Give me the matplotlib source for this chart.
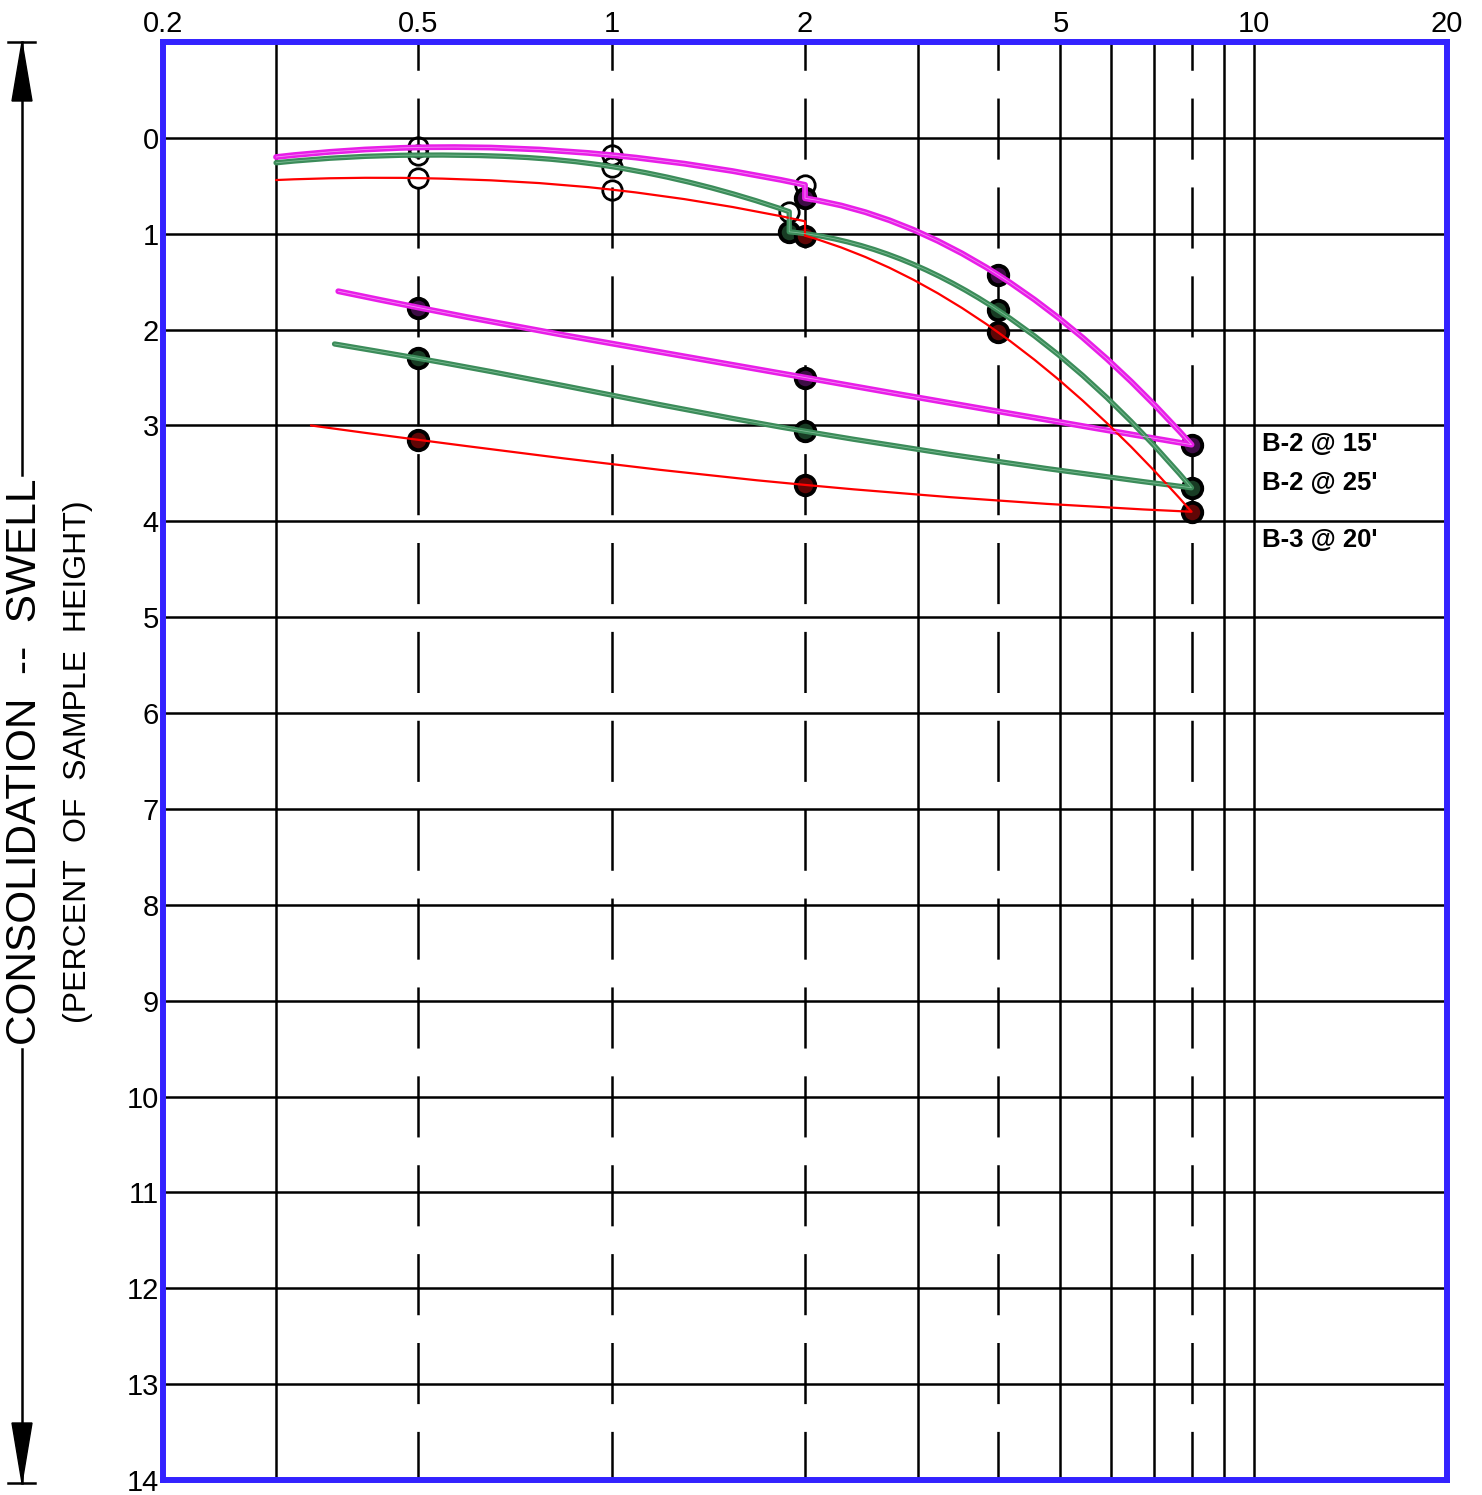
import numpy as np
import matplotlib
matplotlib.use('Agg')
import matplotlib.pyplot as plt
from matplotlib.path import Path
from matplotlib.patches import PathPatch, Polygon
from matplotlib.lines import Line2D
from matplotlib import font_manager

plt.rcParams['font.family'] = ['Liberation Sans', 'DejaVu Sans']
plt.rcParams['lines.scale_dashes'] = False

# applied pressure (ksf) vs consolidation (%)
# B-2 @ 15'
b215_dry_p = [0.3, 0.5, 1, 2]
b215_dry_s = [0.2, 0.1, 0.18, 0.49]
b215_wet_p = [2, 4, 8]
b215_wet_s = [0.63, 1.43, 3.2]
b215_reb_p = [8, 2, 0.5, 0.375]
b215_reb_s = [3.2, 2.5, 1.77, 1.6]

# B-2 @ 25'
b225_dry_p = [0.3, 0.5, 1, 1.89]
b225_dry_s = [0.26, 0.18, 0.3, 0.77]
b225_wet_p = [1.89, 4, 8]
b225_wet_s = [0.98, 1.8, 3.65]
b225_reb_p = [8, 2, 0.5, 0.37]
b225_reb_s = [3.65, 3.06, 2.3, 2.15]

# B-3 @ 20'
b320_dry_p = [0.3, 0.5, 1, 2]
b320_dry_s = [0.44, 0.42, 0.54, 0.87]
b320_wet_p = [2, 4, 8]
b320_wet_s = [1.02, 2.03, 3.9]
b320_reb_p = [8, 2, 0.5, 0.34]
b320_reb_s = [3.9, 3.62, 3.15, 3.0]

labels = ["B-2 @ 15'", "B-2 @ 25'", "B-3 @ 20'"]
label_y = [3.19, 3.6, 4.19]

x_ticks = [0.2, 0.5, 1, 2, 5, 10, 20]
x_ticklabels = ['0.2', '0.5', '1', '2', '5', '10', '20']
y_ticks = list(range(0, 15))
dashed_x = [0.5, 1, 2, 4, 8]
solid_x = [0.3, 3, 5, 6, 7, 9, 10]

series = [
    dict(dry=(b215_dry_p, b215_dry_s), wet=(b215_wet_p, b215_wet_s), reb=(b215_reb_p, b215_reb_s),
         color='#e81ee8', fill='#3e0e46', lw=4.2, core='#f48cf4', n_open=3),
    dict(dry=(b225_dry_p, b225_dry_s), wet=(b225_wet_p, b225_wet_s), reb=(b225_reb_p, b225_reb_s),
         color='#3c8c5a', fill='#183c24', lw=3.8, core='#7cbc94', n_open=3),
    dict(dry=(b320_dry_p, b320_dry_s), wet=(b320_wet_p, b320_wet_s), reb=(b320_reb_p, b320_reb_s),
         color='#ff0000', fill='#600606', lw=1.6, core=None, n_open=2),
]


def smooth(xs, ys):
    # cubic hermite through the points, done in log-pressure space
    u = np.log10(np.asarray(xs, float))
    y = np.asarray(ys, float)
    h = np.diff(u)
    s = np.diff(y) / h
    n = len(u)
    if n == 2:
        m = np.array([s[0], s[0]])
    else:
        m = np.empty(n)
        m[1:-1] = (h[1:] * s[:-1] + h[:-1] * s[1:]) / (h[:-1] + h[1:])
        m[0] = 2 * s[0] - m[1]
        m[-1] = 2 * s[-1] - m[-2]
    verts = [(10 ** u[0], y[0])]
    for i in range(n - 1):
        verts.append((10 ** (u[i] + h[i] / 3), y[i] + m[i] * h[i] / 3))
        verts.append((10 ** (u[i + 1] - h[i] / 3), y[i + 1] - m[i + 1] * h[i] / 3))
        verts.append((10 ** u[i + 1], y[i + 1]))
    return verts


def curve_path(sr):
    dry = smooth(*sr['dry'])
    wet = smooth(*sr['wet'])
    reb = smooth(*sr['reb'])
    verts = dry + wet + reb[1:]
    codes = ([Path.MOVETO] + [Path.CURVE4] * (len(dry) - 1) + [Path.LINETO]
             + [Path.CURVE4] * (len(wet) - 1) + [Path.CURVE4] * (len(reb) - 1))
    return Path(verts, codes)


fig = plt.figure(figsize=(14.82, 14.95), dpi=100)
ax = fig.add_axes([163 / 1482, 1 - 1480 / 1495, (1447 - 163) / 1482, (1480 - 42) / 1495])
ax.set_xscale('log')
ax.set_xlim(0.2, 20)
ax.set_ylim(14, -1)

for v in y_ticks[:-1]:
    ax.axhline(v, color='black', lw=1.8, zorder=1)
for v in solid_x:
    ax.axvline(v, color='black', lw=1.8, zorder=1)
for v in dashed_x:
    ax.axvline(v, color='black', lw=1.8, zorder=1, linestyle=(9, (44, 20)))

for sr in series:
    no = sr['n_open']
    ax.plot(sr['dry'][0][1:1 + no], sr['dry'][1][1:1 + no], 'o', ms=14, mfc='none',
            mec='black', mew=2, zorder=3)
    fx = list(sr['wet'][0]) + list(sr['reb'][0][1:-1])
    fy = list(sr['wet'][1]) + list(sr['reb'][1][1:-1])
    ax.plot(fx, fy, 'o', ms=14, mfc=sr['fill'], mec='black', mew=2.8, zorder=3)
    p = curve_path(sr)
    ax.add_patch(PathPatch(p, fill=False, ec=sr['color'], lw=sr['lw'],
                           capstyle='round', joinstyle='round', zorder=4))
    if sr['core']:
        ax.add_patch(PathPatch(p, fill=False, ec=sr['core'], lw=0.6,
                               capstyle='round', joinstyle='round', zorder=5))

for txt, yy in zip(labels, label_y):
    ax.text(10.3, yy, txt, fontsize=18.5, fontweight='bold', va='center', ha='left', zorder=6)

ax.xaxis.tick_top()
ax.set_xticks(x_ticks)
ax.set_xticklabels(x_ticklabels)
ax.xaxis.set_minor_locator(matplotlib.ticker.NullLocator())
ax.set_yticks(y_ticks)
ax.tick_params(axis='x', length=0, pad=3, labelsize=21)
ax.tick_params(axis='y', length=0, pad=3, labelsize=21)
for sp in ax.spines.values():
    sp.set_color('#3322ff')
    sp.set_linewidth(4.3)
    sp.set_zorder(7)

# side label with arrows
names = {f.name for f in font_manager.fontManager.ttflist}
if 'Liberation Sans Narrow' in names:
    big = fig.text(25 / 1482, 1 - 762 / 1495, 'CONSOLIDATION  --  SWELL', rotation=90,
                   ha='center', va='center', fontsize=37, family='Liberation Sans Narrow')
else:
    big = fig.text(25 / 1482, 1 - 762 / 1495, 'CONSOLIDATION  --  SWELL', rotation=90,
                   ha='center', va='center', fontsize=30.5)
fig.text(78 / 1482, 1 - 762 / 1495, '(PERCENT  OF  SAMPLE  HEIGHT)', rotation=90,
         ha='center', va='center', fontsize=23)

fig.canvas.draw()
bb = big.get_window_extent(fig.canvas.get_renderer())
W, H = 1482, 1495


def fx_(px):
    return px / W


def fy_(py):
    return 1 - py / H


text_top = H - bb.y1
text_bot = H - bb.y0
ax_x = 22
fig.add_artist(Line2D([fx_(ax_x)] * 2, [fy_(42), fy_(text_top - 4)], color='black', lw=1.8))
fig.add_artist(Line2D([fx_(ax_x)] * 2, [fy_(text_bot + 4), fy_(1483)], color='black', lw=1.8))
fig.add_artist(Line2D([fx_(8), fx_(35)], [fy_(42)] * 2, color='black', lw=1.8))
fig.add_artist(Line2D([fx_(8), fx_(35)], [fy_(1483)] * 2, color='black', lw=1.8))
fig.add_artist(Polygon([(fx_(22), fy_(42)), (fx_(12), fy_(101)), (fx_(32), fy_(101))],
                       closed=True, color='black'))
fig.add_artist(Polygon([(fx_(22), fy_(1483)), (fx_(12), fy_(1423)), (fx_(32), fy_(1423))],
                       closed=True, color='black'))

fig.savefig('out.png', dpi=100, facecolor='white')
